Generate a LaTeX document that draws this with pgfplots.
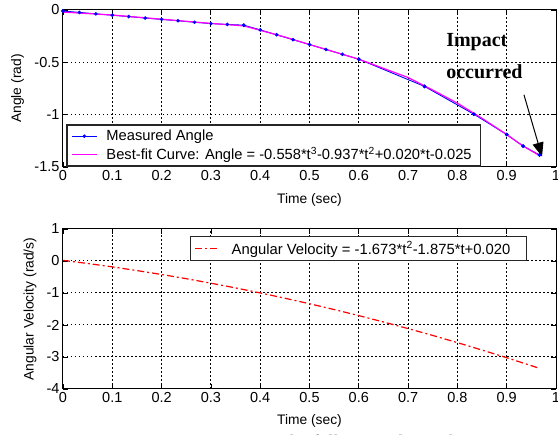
\documentclass[border=0pt]{standalone}
\usepackage{fontspec}
\setmainfont{Liberation Sans}
\newfontfamily\timesfont{Liberation Serif}
\usepackage{pgfplots}
\pgfplotsset{compat=1.18}
\usetikzlibrary{arrows.meta}

\definecolor{mblue}{RGB}{0,0,255}
\definecolor{mmag}{RGB}{255,0,255}
\definecolor{mred}{RGB}{255,0,0}

\pgfplotsset{mstyle/.style={
  scale only axis, width=493pt,
  xmin=0, xmax=1,
  xtick={0,0.1,0.2,0.3,0.4,0.5,0.6,0.7,0.8,0.9,1},
  xticklabels={0,0.1,0.2,0.3,0.4,0.5,0.6,0.7,0.8,0.9,1},
  grid=major,
  major grid style={black, line width=1pt, dash pattern=on 1.5pt off 2.5pt},
  axis line style={black, line width=1pt},
  every tick/.style={black, line width=0.8pt},
  major tick length=5pt,
  tick label style={font=\fontsize{14.5}{16}\selectfont},
  label style={font=\fontsize{13.8}{16}\selectfont},
  /pgf/number format/assume math mode=true,
  xlabel={Time (sec)},
  xlabel style={at={(axis description cs:0.5,0)}, anchor=center, yshift=-32.5pt},
  legend cell align=left,
  clip=false,
}}

\begin{document}
\begin{tikzpicture}[x=1pt,y=1pt]
\useasboundingbox (0,0) rectangle (558,435);

% ---------- top axis ----------
\begin{axis}[mstyle,
  at={(63pt,268pt)}, anchor=south west,
  height=157pt,
  ymin=-1.5, ymax=0,
  ytick={-1.5,-1,-0.5,0},
  yticklabels={-1.5,-1,-0.5,0},
  ylabel={Angle (rad)},
  ylabel style={at={(axis description cs:-0.092,0.5)}, anchor=center},
  legend style={at={(axis description cs:0.007,0)}, anchor=south west,
    draw=black!85, line width=1.6pt, fill=white,
    font=\fontsize{14.7}{16}\selectfont, row sep=1pt,
    inner xsep=4pt, inner ysep=3pt,
    column sep=7pt},
  legend image code/.code={\draw[mark repeat=2,mark phase=2] plot coordinates {(0pt,0pt) (12.5pt,0pt) (25pt,0pt)};},
]
\addplot[mblue, line width=0.9pt, mark=*, mark size=1.3pt] coordinates {
 (0,-0.010) (0.0333,-0.023) (0.0667,-0.037) (0.1,-0.050) (0.1333,-0.063)
 (0.1667,-0.077) (0.2,-0.090) (0.2333,-0.103) (0.2667,-0.117) (0.3,-0.130)
 (0.3333,-0.138) (0.3667,-0.145) (0.4,-0.190) (0.4333,-0.237) (0.4667,-0.284)
 (0.5,-0.330) (0.5333,-0.377) (0.5667,-0.423) (0.6,-0.470) (0.7333,-0.730)
 (0.8333,-0.995) (0.9,-1.190) (0.9333,-1.300) (0.9667,-1.385)};
\addlegendentry{Measured Angle}
\addplot[mmag, line width=1.2pt] coordinates {
 (0,-0.020) (0.1,-0.048) (0.2,-0.088) (0.3,-0.128) (0.3667,-0.152)
 (0.45,-0.258) (0.5,-0.330) (0.6,-0.470) (0.7,-0.645) (0.75,-0.765)
 (0.8,-0.890) (0.85,-1.035) (0.9,-1.190) (0.93,-1.290) (0.9667,-1.392)};
\addlegendentry{Best-fit Curve: Angle = -0.558*t\textsuperscript{3}-0.937*t\textsuperscript{2}+0.020*t-0.025\rule{3pt}{0pt}}
\addplot[mblue, only marks, mark=*, mark size=1.6pt, forget plot] coordinates {
 (0,-0.010) (0.3667,-0.145) (0.6,-0.470) (0.7333,-0.730)
 (0.8333,-0.995) (0.9,-1.190) (0.9333,-1.300) (0.9667,-1.385)};
\node[anchor=base west, font=\timesfont\bfseries\fontsize{20}{22}\selectfont, inner sep=0pt] at (axis cs:0.777,-0.353) {Impact};
\node[anchor=base west, font=\timesfont\bfseries\fontsize{20}{22}\selectfont, inner sep=0pt] at (axis cs:0.777,-0.650) {occurred};
\draw[black, line width=1pt, -{Triangle[length=14pt,width=11pt]}] (axis cs:0.935,-0.81) -- (axis cs:0.9716,-1.40);
\end{axis}

% ---------- bottom axis ----------
\begin{axis}[mstyle,
  at={(63pt,46pt)}, anchor=south west,
  height=160pt,
  ymin=-4, ymax=1,
  ytick={-4,-3,-2,-1,0,1},
  yticklabels={-4,-3,-2,-1,0,1},
  ylabel={Angular Velocity (rad/s)},
  ylabel style={at={(axis description cs:-0.067,0.5)}, anchor=center},
  xlabel style={yshift=0.5pt},
  legend style={at={(axis description cs:0.941,0.956)}, anchor=north east,
    draw=black!85, line width=1.2pt, fill=white,
    font=\fontsize{14.8}{16}\selectfont,
    inner xsep=4pt, inner ysep=3pt,
    column sep=12pt},
  legend image code/.code={\draw plot coordinates {(0pt,0pt) (22pt,0pt)};},
]
\addplot[mred, line width=1.2pt, dash pattern=on 7pt off 3pt on 2pt off 3pt] coordinates {
 (0,0.020) (0.05,-0.078) (0.1,-0.184) (0.15,-0.299) (0.2,-0.422)
 (0.25,-0.553) (0.3,-0.693) (0.35,-0.841) (0.4,-0.998) (0.45,-1.163)
 (0.5,-1.336) (0.55,-1.517) (0.6,-1.707) (0.65,-1.906) (0.7,-2.112)
 (0.75,-2.327) (0.8,-2.551) (0.85,-2.783) (0.9,-3.023) (0.95,-3.271)
 (0.967,-3.358)};
\addlegendentry{Angular Velocity = -1.673*t\textsuperscript{2}-1.875*t+0.020\hspace*{10pt}\mbox{}}
\end{axis}

% caption (cut off by the page edge)
\node[anchor=base, font=\timesfont\fontsize{19}{22}\selectfont, inner sep=0pt] at (335,-14) {Figure 7: The following shows the};
\end{tikzpicture}
\end{document}
